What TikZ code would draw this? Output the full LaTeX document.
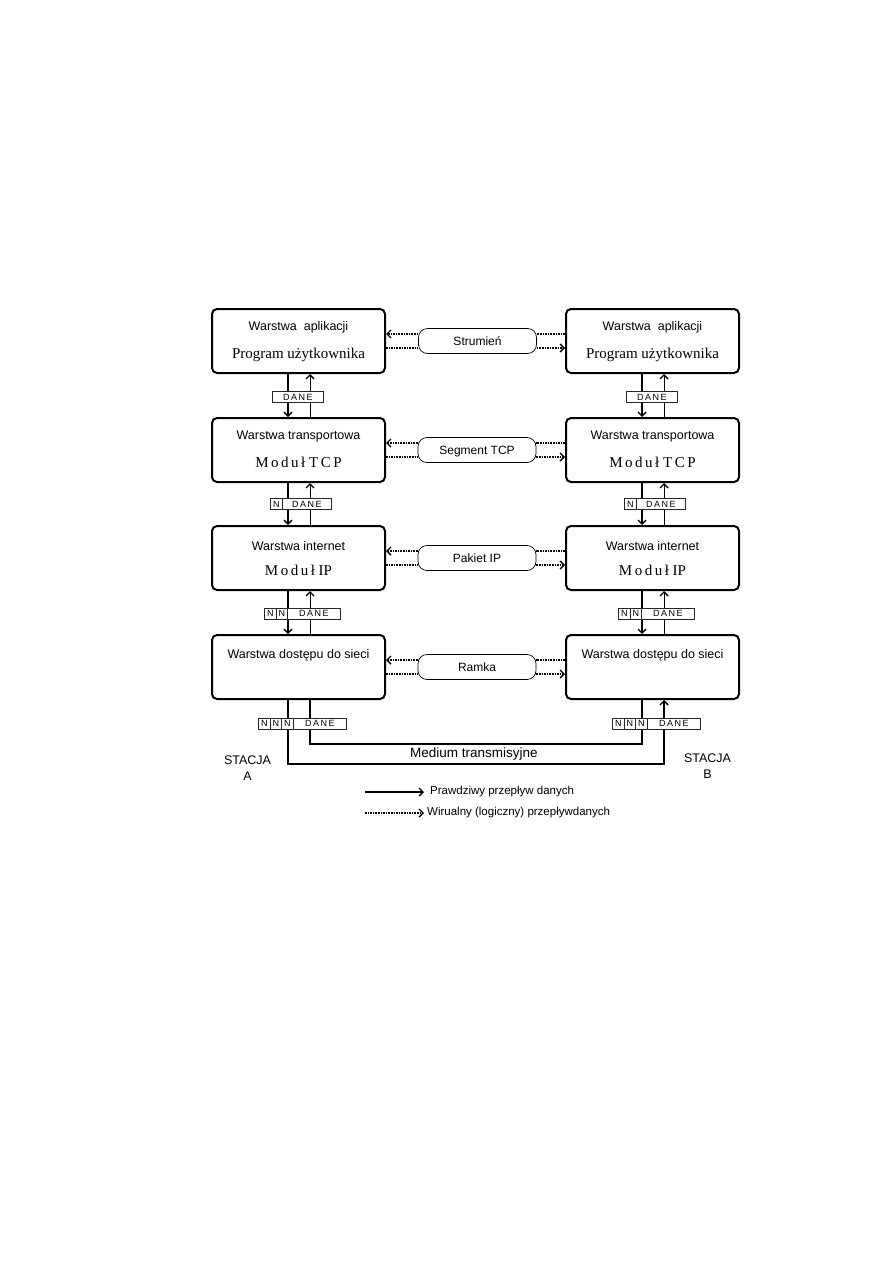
\documentclass[tikz,border=0pt]{standalone}
\usepackage{fontspec}
\setmainfont{Liberation Serif}
\newfontfamily\arialf{Liberation Sans}
\usetikzlibrary{arrows.meta,calc}
\begin{document}
\begin{tikzpicture}[x=1pt,y=-1pt,
  layerbox/.style={draw,line width=2pt,rounded corners=5pt,minimum width=173pt,minimum height=64pt,inner sep=0pt},
  captxt/.style={font=\arialf\fontsize{12.5}{14}\selectfont,inner sep=0pt},
  modtxt/.style={font=\fontsize{15}{17}\selectfont,inner sep=0pt},
  capsule/.style={draw,line width=0.7pt,rounded corners=9pt,minimum width=118pt,minimum height=25pt,inner sep=0pt,text height=9pt,text depth=0pt,font=\arialf\fontsize{12}{14}\selectfont},
  cell/.style={draw=black!85,line width=0.6pt,fill=white,inner sep=0pt,minimum height=11pt,anchor=west,font=\arialf\fontsize{9}{10}\selectfont},
  barb/.tip={Straight Barb[length=4pt,width=8pt,line width=1.4pt]},
  realdown/.style={line width=1.8pt,-barb},
  realup/.style={line width=1pt,-barb},
  medium/.style={line width=1.8pt},
  virt/.style={line width=1.3pt,dash pattern=on 1.6pt off 1pt},
  plain/.style={font=\arialf\fontsize{12.5}{16}\selectfont,inner sep=0pt,align=center}
]
\useasboundingbox (0,0) rectangle (893,1263);

% layer boxes
\node[layerbox] (b1L) at (298.5,341) {};
\node[layerbox] (b1R) at (652.5,341) {};
\node[layerbox] (b2L) at (298.5,450) {};
\node[layerbox] (b2R) at (652.5,450) {};
\node[layerbox] (b3L) at (298.5,558) {};
\node[layerbox] (b3R) at (652.5,558) {};
\node[layerbox] (b4L) at (298.5,667) {};
\node[layerbox] (b4R) at (652.5,667) {};

% box texts
\foreach \s in {L,R}{
  \node[captxt] (w1\s) at ($(b1\s)+(0,-14)$) {Warstwa\ \ aplikacji};
  \node[modtxt] (m1\s) at ($(b1\s)+(0,14)$) {Program użytkownika};
  \node[captxt] (w2\s) at ($(b2\s)+(0,-14)$) {Warstwa transportowa};
  \node[modtxt] (m2\s) at ($(b2\s)+(0,12)$) {M\,o\,d\,u\,ł T\,C\,P};
  \node[captxt] (w3\s) at ($(b3\s)+(0,-12)$) {Warstwa internet};
  \node[modtxt] (m3\s) at ($(b3\s)+(0,12)$) {M\,o\,d\,u\,ł IP};
  \node[captxt] (w4\s) at ($(b4\s)+(0,-12)$) {Warstwa dostępu do sieci};
}

% capsules
\node[capsule] (c1) at (477.5,341) {Strumień};
\node[capsule] (c2) at (477,450) {Segment TCP};
\node[capsule] (c3) at (477,558) {Pakiet IP};
\node[capsule] (c4) at (477,667) {Ramka};

% virtual flows
\foreach \i in {1,2,3,4}{
  \draw[virt,-barb] ($(c\i.west)+(0,-7)$) -- ($(b\i L.east)+(0,-7)$);
  \draw[virt] ($(b\i L.east)+(0,7)$) -- ($(c\i.west)+(0,7)$);
  \draw[virt] ($(b\i R.west)+(0,-7)$) -- ($(c\i.east)+(0,-7)$);
  \draw[virt,-barb] ($(c\i.east)+(0,7)$) -- ($(b\i R.west)+(0,7)$);
}

% real vertical flows between layers
\foreach \s in {L,R}{
  \draw[realdown] ($(b1\s.south west)+(77,0)$) -- ($(b2\s.north west)+(77,0)$);
  \draw[realup] ($(b2\s.north west)+(99,0)$) -- ($(b1\s.south west)+(99,0)$);
  \draw[realdown] ($(b2\s.south west)+(77,0)$) -- ($(b3\s.north west)+(77,0)$);
  \draw[realup] ($(b3\s.north west)+(99,0)$) -- ($(b2\s.south west)+(99,0)$);
  \draw[realdown] ($(b3\s.south west)+(77,0)$) -- ($(b4\s.north west)+(77,0)$);
  \draw[realup] ($(b4\s.north west)+(99,0)$) -- ($(b3\s.south west)+(99,0)$);
}

% transmission medium
\draw[medium,-barb] ($(b4L.south west)+(77,0)$) -- ++(0,64) -| ($(b4R.south west)+(99,0)$);
\draw[medium] ($(b4L.south west)+(99,0)$) -- ++(0,44) -| ($(b4R.south west)+(77,0)$);

% data unit labels
\foreach \s in {L,R}{
  \node[cell,minimum width=51pt] (d1\s) at ($(b1\s.south west)+(61,23)$) {D\,A\,N\,E};
  \node[cell,minimum width=12pt] (n2a\s) at ($(b2\s.south west)+(59,21)$) {N};
  \node[cell,minimum width=49pt] (d2\s) at ($(b2\s.south west)+(71,21)$) {D\,A\,N\,E};
  \node[cell,minimum width=12pt] (n3a\s) at ($(b3\s.south west)+(53,22.5)$) {N};
  \node[cell,minimum width=11pt] (n3b\s) at ($(b3\s.south west)+(65,22.5)$) {N};
  \node[cell,minimum width=53pt] (d3\s) at ($(b3\s.south west)+(76,22.5)$) {D\,A\,N\,E};
  \node[cell,minimum width=12pt] (n4a\s) at ($(b4\s.south west)+(47,23.5)$) {N};
  \node[cell,minimum width=11pt] (n4b\s) at ($(b4\s.south west)+(59,23.5)$) {N};
  \node[cell,minimum width=12pt] (n4c\s) at ($(b4\s.south west)+(70,23.5)$) {N};
  \node[cell,minimum width=53pt] (d4\s) at ($(b4\s.south west)+(82,23.5)$) {D\,A\,N\,E};
}

% texts
\node[plain,font=\arialf\fontsize{13.5}{16}\selectfont] (med) at (474,753.5) {Medium transmisyjne};
\node[plain] (sa) at (247.5,768.5) {STACJA\\A};
\node[plain] (sb) at (707.5,766.5) {STACJA\\B};

% legend
\coordinate (lg1) at (365,792);
\coordinate (lg2) at (365,813);
\node[plain,anchor=west,font=\arialf\fontsize{11.5}{14}\selectfont] (lt1) at (430,792) {Prawdziwy przepływ danych};
\node[plain,anchor=west,font=\arialf\fontsize{11.5}{14}\selectfont] (lt2) at (427,813) {Wirualny (logiczny) przepływdanych};
\draw[line width=1.8pt,-barb] (lg1) -- ($(lt1.west)+(-6,0)$);
\draw[virt,-barb] (lg2) -- ($(lt2.west)+(-3,0)$);
\end{tikzpicture}
\end{document}
